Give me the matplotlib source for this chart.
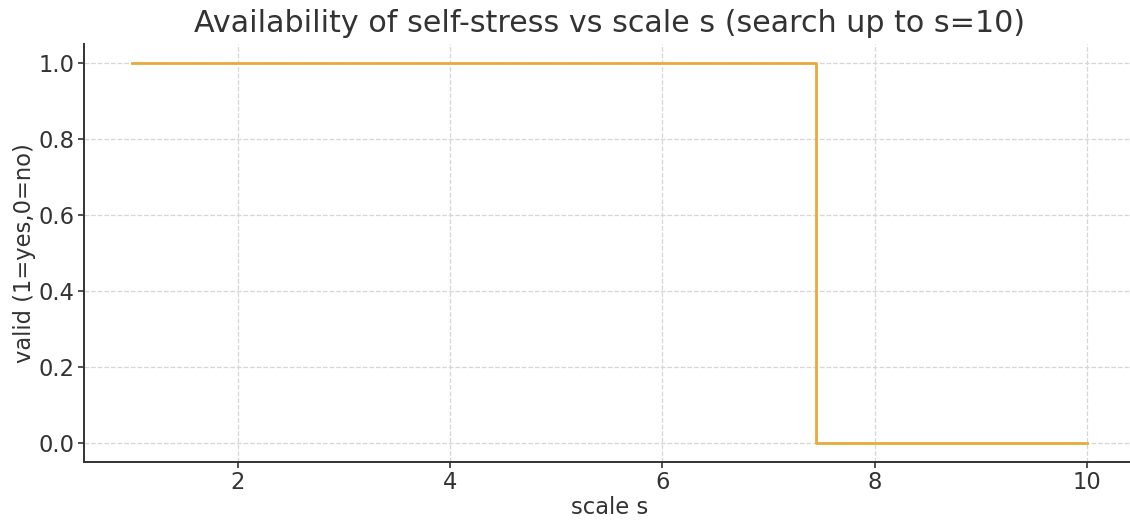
import matplotlib
matplotlib.use("Agg")
import matplotlib.pyplot as plt

# Data
scale_s = [1.0, 7.45, 10.0]
valid = [1, 0, 0]
title = "Availability of self-stress vs scale s (search up to s=10)"
xlabel = "scale s"
ylabel = "valid (1=yes,0=no)"

plt.rcParams['font.family'] = ['DejaVu Sans']
text_color = '#333333'

fig = plt.figure(figsize=(11.3, 5.21), dpi=100)
ax = fig.add_axes([0.0743, 0.113, 0.930, 0.8025])

ax.plot(scale_s, valid, drawstyle='steps-post', color='#E9A93B', linewidth=2.0)

ax.set_title(title, fontsize=21.7, color=text_color, pad=9)
ax.set_xlabel(xlabel, fontsize=16.3, color=text_color, labelpad=1)
ax.set_ylabel(ylabel, fontsize=16.3, color=text_color, labelpad=2)

ax.set_xticks([2, 4, 6, 8, 10])
ax.set_yticks([0.0, 0.2, 0.4, 0.6, 0.8, 1.0])
ax.tick_params(axis='both', labelsize=16.3, colors=text_color, length=4, width=1.2, pad=2.5)
ax.grid(True, linestyle='--', color='#d6d6d6', linewidth=0.9)
ax.set_axisbelow(True)

for side in ['top', 'right']:
    ax.spines[side].set_visible(False)
for side in ['left', 'bottom']:
    ax.spines[side].set_color('#333333')
    ax.spines[side].set_linewidth(1.4)

fig.savefig('out.png', dpi=100)
